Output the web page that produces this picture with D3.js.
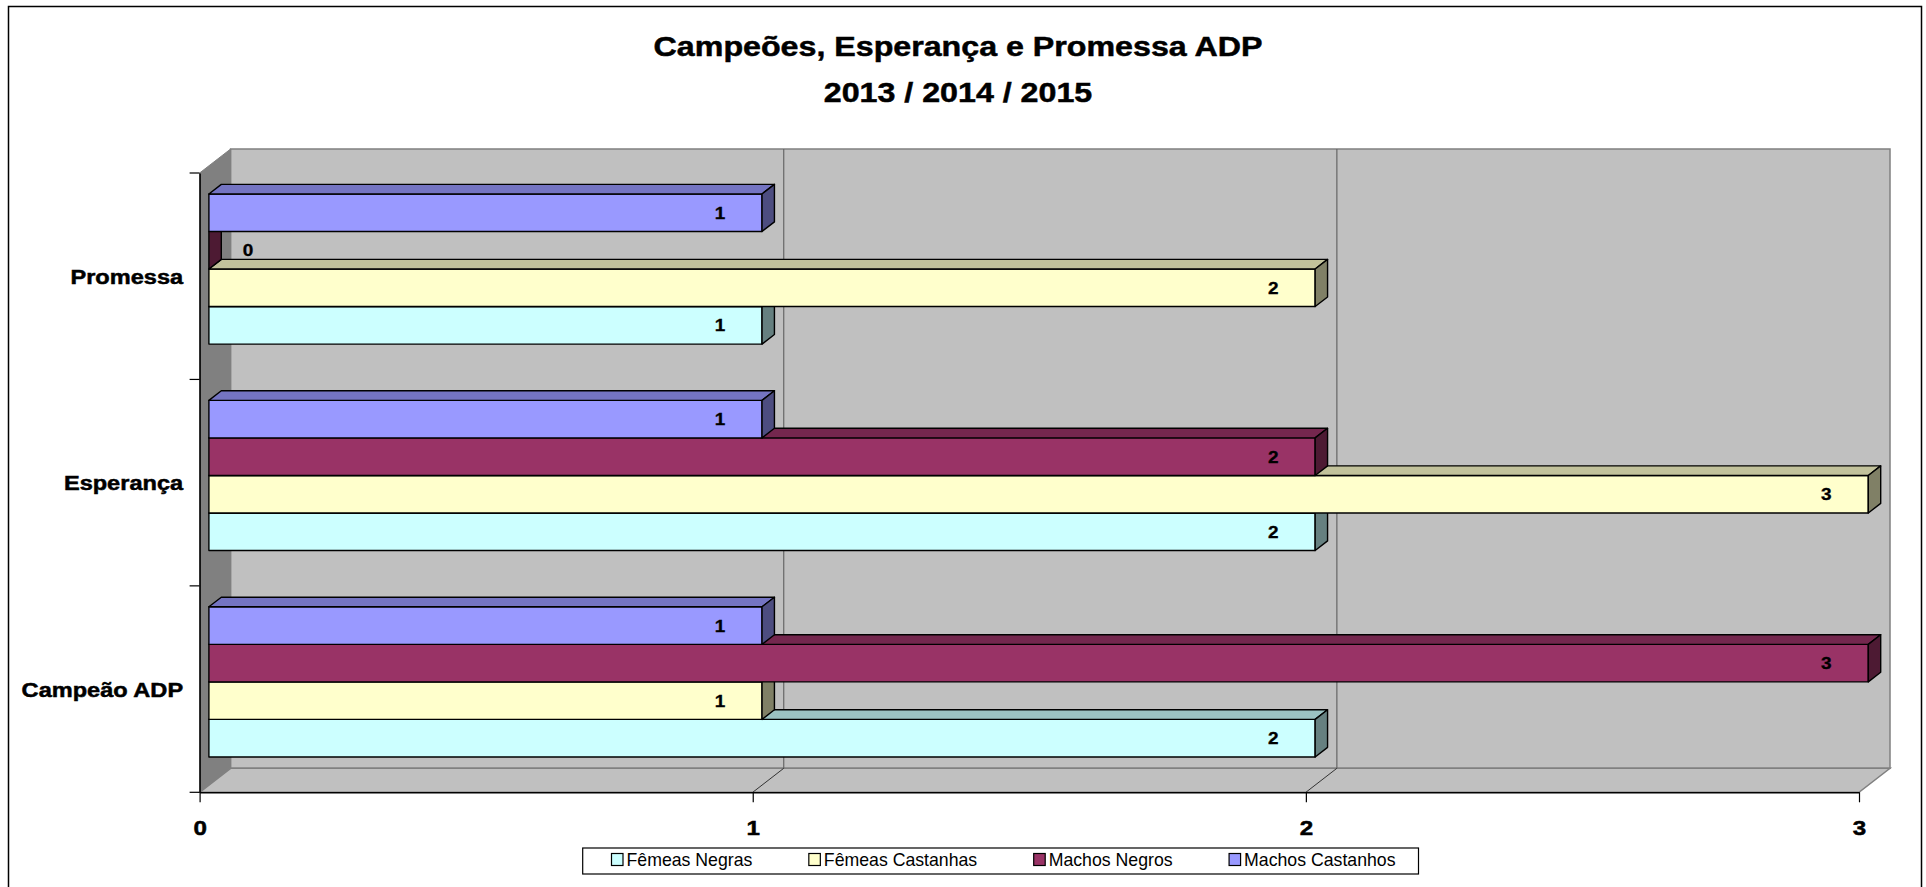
<!DOCTYPE html>
<html lang="pt">
  <head>
    <meta http-equiv="Content-Type" content="text/html; charset=utf-8"/>
    <style>
body {
  margin: 0;
  background: #fff;
}
text {
  font-family: "Liberation Sans", Arial, sans-serif;
  fill: #000;
}
.heavy {
  font-weight: bold;
  stroke: #000;
  stroke-width: 0.5px;
}
    </style>
  </head>
  <body>
    <svg id="chart" width="1926" height="887"></svg>
    <script src="https://cdn.jsdelivr.net/npm/d3@7"></script>
    <script>

// chart data
var categories = ["Campeão ADP", "Esperança", "Promessa"];
var seriesNames = ["Fêmeas Negras", "Fêmeas Castanhas", "Machos Negros", "Machos Castanhos"];
var femeasNegras = [2, 2, 1];
var femeasCastanhas = [1, 3, 2];
var machosNegros = [3, 2, 0];
var machosCastanhos = [1, 1, 1];
var seriesColors = ["#CCFFFF", "#FFFFCC", "#993366", "#9999FF"];
var xTicks = [0, 1, 2, 3];
var titleLines = ["Campeões, Esperança e Promessa ADP", "2013 / 2014 / 2015"];

var seriesValues = [femeasNegras, femeasCastanhas, machosNegros, machosCastanhos];

var svg = d3.select('#chart');

// front plane of the 3d box, and the depth offset
// (window.top is read-only, so no plain "top" here)
var frontLeft = 199.6, frontRight = 1859, frontTop = 173, frontBottom = 792.3;
var depthX = 31, depthY = 24;
var stretch = 'scale(1.15,1)';

var x = d3.scaleLinear().domain([0, 3]).range([frontLeft, frontRight]);
var y = d3.scaleBand().domain(categories.slice().reverse()).range([frontTop, frontBottom]);
var ySub = d3.scaleBand().domain(seriesNames.slice().reverse())
  .range([0, y.bandwidth()]).paddingOuter(0.75);

// bars sit in the middle 40% of the depth
var barFrontX = 0.3 * depthX, barFrontY = 0.3 * depthY;
var barDx = 0.4 * depthX, barDy = 0.4 * depthY;

function shade(c, k) {
  var r = d3.rgb(c);
  return d3.rgb(r.r * k, r.g * k, r.b * k).formatHex();
}

// outer frame
svg.append('rect')
  .attr('x', 8.5).attr('y', 6.5)
  .attr('width', 1913).attr('height', 900)
  .attr('fill', 'none').attr('stroke', '#000').attr('stroke-width', 1.5);

// title
svg.selectAll('.title')
  .data(titleLines)
  .enter()
  .append('text')
  .attr('class', 'title heavy')
  .attr('transform', function(d, i) { return 'translate(958,' + (56 + i * 46) + ') ' + stretch; })
  .attr('text-anchor', 'middle')
  .style('font-size', '28px')
  .text(function(d) { return d; });

// walls
var walls = svg.append('g').attr('class', 'walls');

walls.append('rect')
  .attr('x', frontLeft + depthX).attr('y', frontTop - depthY)
  .attr('width', frontRight - frontLeft).attr('height', frontBottom - frontTop)
  .attr('fill', '#C0C0C0').attr('stroke', '#808080').attr('stroke-width', 1.5);

walls.append('polygon')
  .attr('points', [[frontLeft, frontTop], [frontLeft + depthX, frontTop - depthY],
    [frontLeft + depthX, frontBottom - depthY], [frontLeft, frontBottom]].join(' '))
  .attr('fill', '#808080').attr('stroke', '#808080');

walls.append('polygon')
  .attr('points', [[frontLeft, frontBottom], [frontLeft + depthX, frontBottom - depthY],
    [frontRight + depthX, frontBottom - depthY], [frontRight, frontBottom]].join(' '))
  .attr('fill', '#C0C0C0').attr('stroke', '#808080').attr('stroke-width', 1.5);

// gridlines on back wall and floor
var inner = xTicks.slice(1, -1);
walls.selectAll('.grid')
  .data(inner)
  .enter()
  .append('line')
  .attr('class', 'grid')
  .attr('x1', function(d) { return x(d) + depthX; })
  .attr('x2', function(d) { return x(d) + depthX; })
  .attr('y1', frontTop - depthY).attr('y2', frontBottom - depthY)
  .attr('stroke', '#666').attr('stroke-width', 1.2);

walls.selectAll('.floorgrid')
  .data(inner)
  .enter()
  .append('line')
  .attr('class', 'floorgrid')
  .attr('x1', function(d) { return x(d); })
  .attr('x2', function(d) { return x(d) + depthX; })
  .attr('y1', frontBottom).attr('y2', frontBottom - depthY)
  .attr('stroke', '#333').attr('stroke-width', 1);

// bars, drawn bottom series first so upper bars cover top faces
var bars = [];
categories.forEach(function(cat, ci) {
  seriesNames.forEach(function(name, si) {
    bars.push({ cat: cat, series: name, value: seriesValues[si][ci], color: seriesColors[si] });
  });
});

var barG = svg.append('g').attr('class', 'bars');

bars.forEach(function(d) {
  var x0 = x(0) + barFrontX;
  var x1 = x(d.value) + barFrontX;
  var y0 = y(d.cat) + ySub(d.series) - barFrontY;
  var y1 = y0 + ySub.bandwidth();
  d.x1 = x1; d.yc = (y0 + y1) / 2;

  var g = barG.append('g')
    .attr('stroke', '#000').attr('stroke-width', 1.4).attr('stroke-linejoin', 'round');

  if (d.value > 0) {
    g.append('rect')
      .attr('x', x0).attr('y', y0)
      .attr('width', x1 - x0).attr('height', y1 - y0)
      .attr('fill', d.color);
    g.append('polygon')
      .attr('points', [[x0, y0], [x1, y0], [x1 + barDx, y0 - barDy], [x0 + barDx, y0 - barDy]].join(' '))
      .attr('fill', shade(d.color, 0.76));
  }
  g.append('polygon')
    .attr('points', [[x1, y0], [x1 + barDx, y0 - barDy], [x1 + barDx, y1 - barDy], [x1, y1]].join(' '))
    .attr('fill', shade(d.color, 0.5));
});

// value labels
svg.append('g').selectAll('text')
  .data(bars)
  .enter()
  .append('text')
  .attr('class', 'heavy')
  .attr('transform', function(d) {
    var lx = d.value > 0 ? d.x1 - 42 : d.x1 + 39;
    return 'translate(' + lx + ',' + (d.yc + 6) + ') ' + stretch;
  })
  .attr('text-anchor', 'middle')
  .style('font-size', '16.5px')
  .style('stroke-width', '0.3px')
  .text(function(d) { return d.value; });

// x axis (floor front edge)
var xAxis = svg.append('g')
  .attr('transform', 'translate(0,' + frontBottom + ')')
  .call(d3.axisBottom(x).tickValues(xTicks).tickSize(10).tickSizeOuter(0).tickFormat(d3.format('d')));
xAxis.attr('font-family', null).attr('font-size', null);
xAxis.select('.domain').attr('stroke', '#000').attr('stroke-width', 1.5);
xAxis.selectAll('.tick line').attr('stroke', '#000').attr('stroke-width', 1.2);
xAxis.selectAll('.tick text')
  .attr('class', 'heavy')
  .attr('y', null).attr('dy', null)
  .attr('transform', 'translate(0,43) ' + stretch)
  .style('font-size', '21px');

// y axis (left wall front edge)
var yAxis = svg.append('g')
  .attr('transform', 'translate(' + frontLeft + ',0)')
  .call(d3.axisLeft(y).tickSize(0).tickSizeOuter(0));
yAxis.attr('font-family', null).attr('font-size', null);
yAxis.select('.domain').attr('stroke', '#000').attr('stroke-width', 1.5);
yAxis.selectAll('.tick text')
  .attr('class', 'heavy')
  .attr('x', null).attr('dy', null)
  .attr('transform', 'translate(-16.5,7.5) ' + stretch)
  .style('font-size', '20.5px');

var bounds = y.domain().map(function(c) { return y(c); }).concat([frontBottom]);
yAxis.selectAll('.bound')
  .data(bounds)
  .enter()
  .append('line')
  .attr('class', 'bound')
  .attr('x1', -10).attr('x2', 0)
  .attr('y1', function(d) { return d; })
  .attr('y2', function(d) { return d; })
  .attr('stroke', '#000').attr('stroke-width', 1.2);

// legend
var legend = svg.append('g').attr('class', 'legend');
legend.append('rect')
  .attr('x', 582.7).attr('y', 848)
  .attr('width', 835.8).attr('height', 26)
  .attr('fill', '#fff').attr('stroke', '#000').attr('stroke-width', 1.2);

var lx = 611;
seriesNames.forEach(function(name, i) {
  legend.append('rect')
    .attr('x', lx + 0.5).attr('y', 853.5)
    .attr('width', 11.5).attr('height', 12)
    .attr('fill', seriesColors[i]).attr('stroke', '#000').attr('stroke-width', 1.2);
  var t = legend.append('text')
    .attr('x', lx + 15.5).attr('y', 866)
    .style('font-size', '17.7px')
    .text(name);
  lx += 15.5 + t.node().getComputedTextLength() + 56;
});

    </script>
  </body>
</html>
